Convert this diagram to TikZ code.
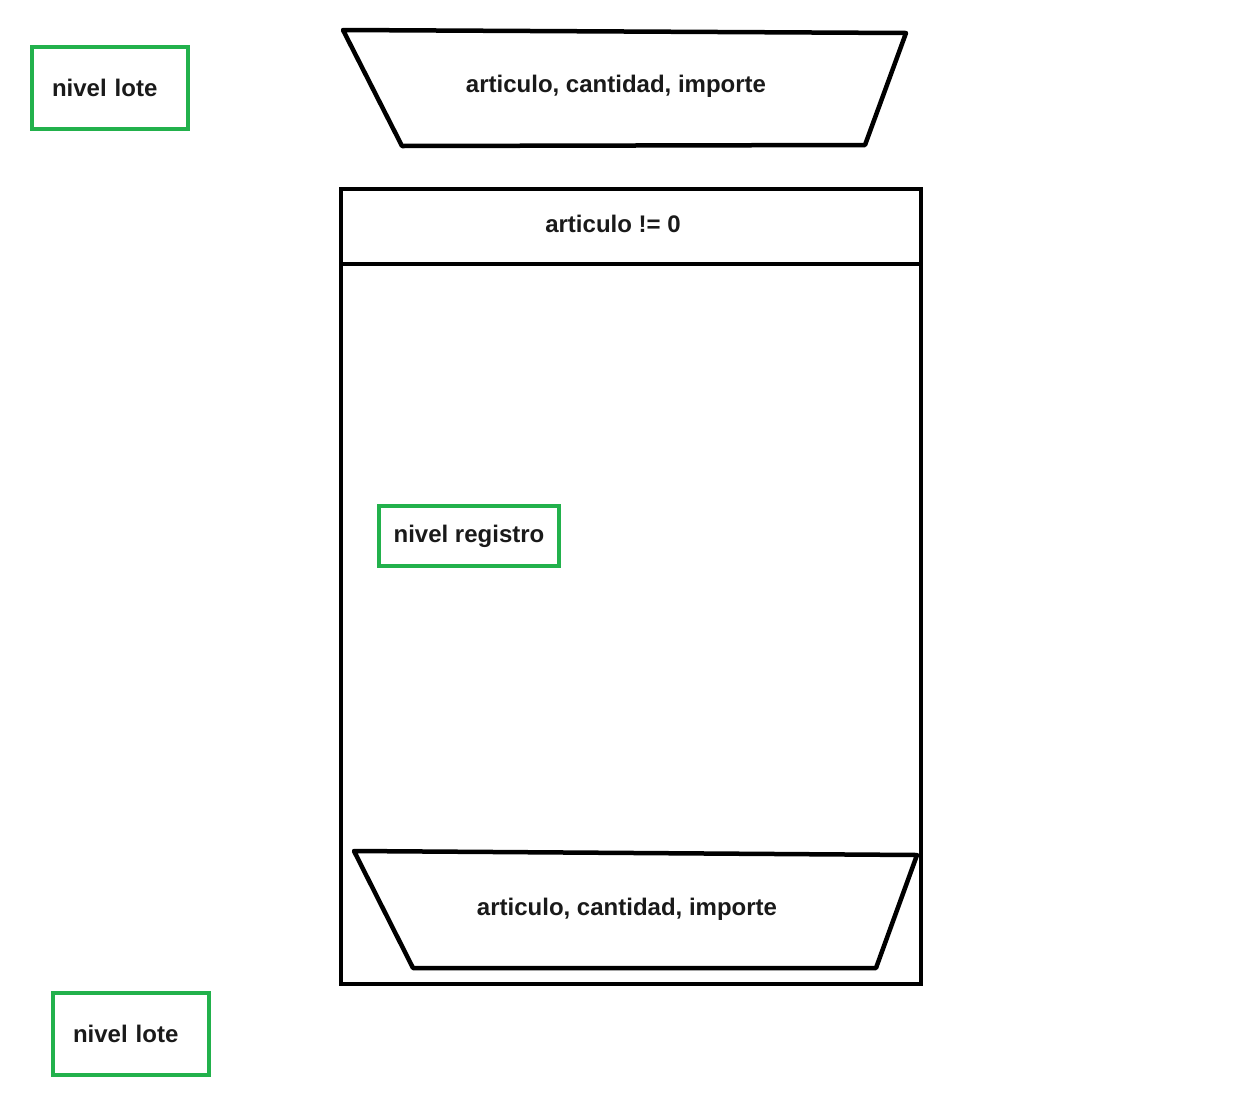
\documentclass[tikz,border=0pt]{standalone}
\usepackage{fontspec}
\setmainfont{Liberation Sans}
\usepackage{tikz}
\usetikzlibrary{positioning}
\usepackage{xcolor}
\definecolor{nvgreen}{RGB}{34,177,76}
\definecolor{nvtext}{RGB}{26,26,26}
\tikzstyle{nivel} = [rectangle, draw=nvgreen, line width=4pt, minimum height=82pt, text width=116pt, inner xsep=20pt, align=left, font=\fontsize{24}{28}\selectfont\bfseries, text=nvtext]
\tikzstyle{nivelreg} = [rectangle, draw=nvgreen, line width=4pt, minimum width=180pt, minimum height=60pt, font=\fontsize{24}{28}\selectfont\bfseries, text=nvtext]
\tikzstyle{txt} = [font=\fontsize{24}{28}\selectfont\bfseries, text=nvtext]
\tikzstyle{outline} = [line width=4.5pt, color=black, line cap=round, line join=round]

\begin{document}
\begin{tikzpicture}[x=1pt, y=-1pt]
\useasboundingbox[fill=white] (0,0) rectangle (1242,1101);
% lote level
\node[nivel] (lote_top) at (110,88) {nivel lote};
\node[nivel] (lote_bot) at (131,1034) {nivel lote};

% input before loop
\draw[outline] (343,30) -- (906,33) -- (865,145) -- (402,146) -- cycle;
\node[txt] (read_top) at (616,86) {articulo, cantidad, importe};

% while loop
\draw[outline, line cap=butt, line join=miter] (341,189) rectangle (921,984);
\draw[outline, line cap=butt] (341,264) -- (921,264);
\node[txt] (cond) at (613,224) {articulo != 0};

% registro level
\node[nivelreg] (registro) at (469,536) {nivel registro};

% input inside loop
\draw[outline] (354,851) -- (917,855) -- (876,968) -- (413,968) -- cycle;
\node[txt] (read_loop) at (627,909) {articulo, cantidad, importe};
\end{tikzpicture}
\end{document}
